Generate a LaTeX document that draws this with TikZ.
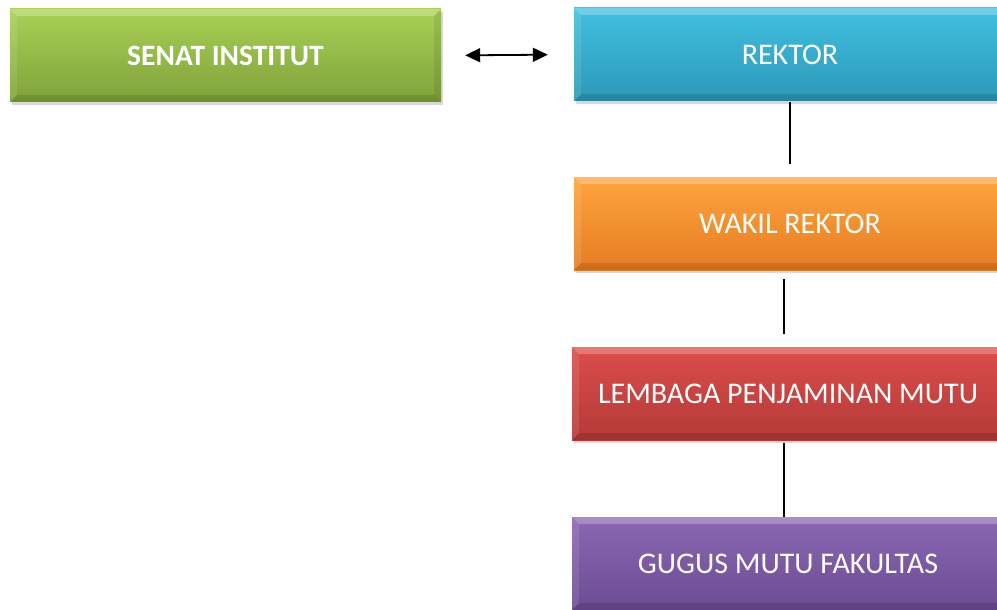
\documentclass[tikz,border=0pt]{standalone}
\usepackage{fontspec}
\setmainfont{Carlito}
\usetikzlibrary{shadows,arrows.meta,calc}
\definecolor{gtop}{HTML}{A9D156}
\definecolor{gbot}{HTML}{7FA23A}
\definecolor{btop}{HTML}{40C0E0}
\definecolor{bbot}{HTML}{2E98B8}
\definecolor{otop}{HTML}{FFA43E}
\definecolor{obot}{HTML}{E57D22}
\definecolor{rtop}{HTML}{DC4D4B}
\definecolor{rbot}{HTML}{B33A38}
\definecolor{ptop}{HTML}{8C67B3}
\definecolor{pbot}{HTML}{6B4C93}
\tikzset{
  orgbox/.style 2 args={rectangle, minimum width=432pt, minimum height=93pt, inner sep=0pt,
    text=white, font=\fontsize{30}{34}\selectfont, text depth=0pt,
    top color=#1, bottom color=#2,
    drop shadow={shadow xshift=1.5pt, shadow yshift=-3pt, opacity=0.3},
    path picture={
      \fill[white,opacity=0.25] (path picture bounding box.north west) -- (path picture bounding box.north east)
        -- ([xshift=-7pt,yshift=-7pt]path picture bounding box.north east) -- ([xshift=7pt,yshift=-7pt]path picture bounding box.north west) -- cycle;
      \fill[black,opacity=0.12] (path picture bounding box.south west) -- (path picture bounding box.south east)
        -- ([xshift=-7pt,yshift=7pt]path picture bounding box.south east) -- ([xshift=7pt,yshift=7pt]path picture bounding box.south west) -- cycle;
      \fill[white,opacity=0.1] (path picture bounding box.north west) -- (path picture bounding box.south west)
        -- ([xshift=7pt,yshift=7pt]path picture bounding box.south west) -- ([xshift=7pt,yshift=-7pt]path picture bounding box.north west) -- cycle;
      \fill[black,opacity=0.08] (path picture bounding box.north east) -- (path picture bounding box.south east)
        -- ([xshift=-7pt,yshift=7pt]path picture bounding box.south east) -- ([xshift=-7pt,yshift=-7pt]path picture bounding box.north east) -- cycle;
    }},
  link/.style={line width=1.6pt, black},
}
\begin{document}
\begin{tikzpicture}[x=1pt,y=-1pt]
\useasboundingbox (0,0) rectangle (997,610);
\clip (0,0) rectangle (997,610);
\node[orgbox={gtop}{gbot}, minimum width=431pt, font=\fontsize{29.5}{34}\selectfont\bfseries] (senat) at (225.5,55.5) {SENAT INSTITUT};
\node[orgbox={btop}{bbot}] (rektor) at (790,54.5) {REKTOR};
\node[orgbox={otop}{obot}] (wakil) at (790,223.5) {WAKIL REKTOR};
\node[orgbox={rtop}{rbot}] (lpm) at (788,393.5) {LEMBAGA PENJAMINAN MUTU};
\node[orgbox={ptop}{pbot}] (gugus) at (788,563.5) {GUGUS MUTU FAKULTAS};
\draw[link, line width=1.8pt, {Triangle[length=15pt,width=14pt]}-{Triangle[length=15pt,width=14pt]}, shorten <=24pt, shorten >=26pt] (senat.east) -- (rektor.west);
\draw[link] ([yshift=-1pt]rektor.south) -- ([yshift=13pt]wakil.north);
\draw[link] ([xshift=-6pt,yshift=-9pt]wakil.south) -- ([xshift=-4pt,yshift=13pt]lpm.north);
\draw[link] ([xshift=-4pt,yshift=-3pt]lpm.south) -- ([xshift=-4pt]gugus.north);
\end{tikzpicture}
\end{document}
